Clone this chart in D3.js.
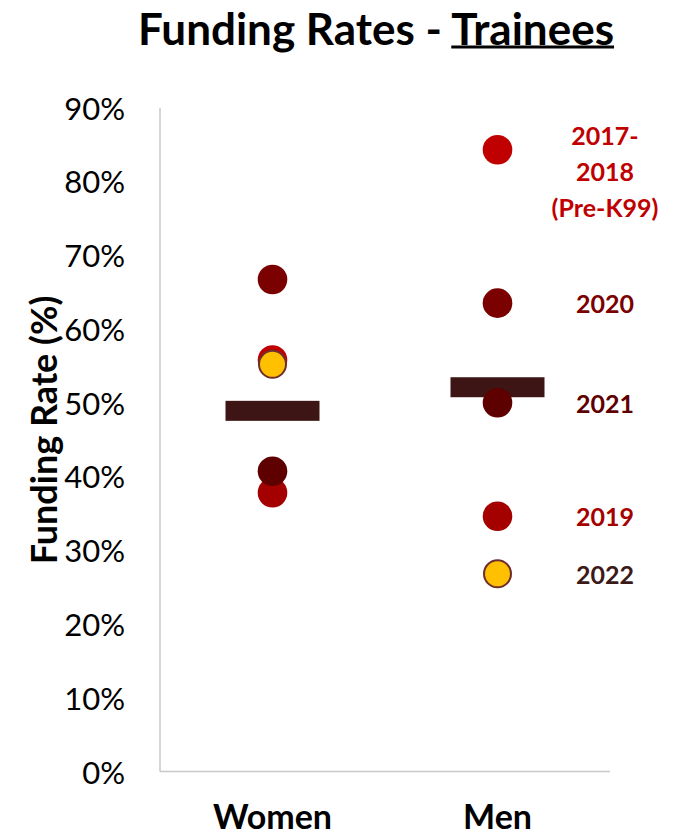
<!DOCTYPE html>
<html>
<head>
<meta charset="utf-8">
<script src="https://cdn.jsdelivr.net/npm/d3@7"></script>
<style>
  body { margin: 0; background: #fff; }
  text { font-family: Lato, "Open Sans", sans-serif; }
</style>
</head>
<body>
<div id="main"></div>
<script>
// data
var groups = ["Women", "Men"];
var years = ["2017-2018", "2019", "2020", "2021", "2022"];
var women = [55.8, 37.8, 66.7, 40.7, 55.2];
var men = [84.3, 34.6, 63.5, 50.0, 26.8];
var averages = [48.9, 52.1];
var tickValues = [0, 10, 20, 30, 40, 50, 60, 70, 80, 90];
var yearLabels = [["2017-", "2018", "(Pre-K99)"], ["2019"], ["2020"], ["2021"], ["2022"]];

var pointColors = ["#C00000", "#A50000", "#7B0000", "#5E0000", "#FFC000"];
var labelColors = ["#C00000", "#A50000", "#7B0000", "#5E0000", "#3D1A1A"];

var W = 677, H = 836;
var svg = d3.select("#main").append("svg")
    .attr("width", W)
    .attr("height", H);

var x = d3.scaleBand()
    .domain(groups)
    .range([160, 610]);

var y = d3.scaleLinear()
    .domain([0, 90])
    .range([771.5, 107.7]);

// title
var title = svg.append("text")
    .attr("x", 376)
    .attr("y", 28)
    .attr("text-anchor", "middle")
    .attr("dominant-baseline", "central")
    .attr("font-size", 44)
    .attr("font-weight", "bold")
    .attr("fill", "#000");
title.append("tspan").text("Funding Rates - ");
var under = title.append("tspan").text("Trainees");

// underline for "Trainees"
var titleBox = title.node().getBBox();
var tLen = under.node().getComputedTextLength();
svg.append("line")
    .attr("x1", titleBox.x + titleBox.width - tLen)
    .attr("x2", titleBox.x + titleBox.width)
    .attr("y1", 47)
    .attr("y2", 47)
    .attr("stroke", "#000")
    .attr("stroke-width", 3);

// axis lines
svg.append("line")
    .attr("x1", 160).attr("x2", 160)
    .attr("y1", y(90)).attr("y2", y(0))
    .attr("stroke", "#c8c8c8")
    .attr("stroke-width", 1.5);
svg.append("line")
    .attr("x1", 160).attr("x2", 610)
    .attr("y1", y(0)).attr("y2", y(0))
    .attr("stroke", "#c8c8c8")
    .attr("stroke-width", 1.5);

// y tick labels
svg.selectAll("text.ytick")
    .data(tickValues)
    .enter().append("text")
    .attr("class", "ytick")
    .attr("x", 125)
    .attr("y", function(d) { return y(d); })
    .attr("text-anchor", "end")
    .attr("dominant-baseline", "central")
    .attr("font-size", 31)
    .attr("fill", "#000")
    .text(function(d) { return d + "%"; });

// y axis title
svg.append("text")
    .attr("transform", "translate(43," + 430 + ") rotate(-90)")
    .attr("text-anchor", "middle")
    .attr("dominant-baseline", "central")
    .attr("font-size", 36)
    .attr("font-weight", "bold")
    .attr("fill", "#000")
    .text("Funding Rate (%)");

// category labels
svg.selectAll("text.cat")
    .data(groups)
    .enter().append("text")
    .attr("class", "cat")
    .attr("x", function(d) { return x(d) + x.bandwidth() / 2; })
    .attr("y", 815)
    .attr("text-anchor", "middle")
    .attr("dominant-baseline", "central")
    .attr("font-size", 34)
    .attr("font-weight", "bold")
    .attr("fill", "#000")
    .text(function(d) { return d; });

// average bars
var barW = 94, barH = 20;
svg.selectAll("rect.avg")
    .data(averages)
    .enter().append("rect")
    .attr("class", "avg")
    .attr("x", function(d, i) { return x(groups[i]) + x.bandwidth() / 2 - barW / 2; })
    .attr("y", function(d) { return y(d) - barH / 2; })
    .attr("width", barW)
    .attr("height", barH)
    .attr("fill", "#3D1515");

// points, drawn year by year so later years sit on top
var points = [];
years.forEach(function(yr, i) {
    points.push({group: "Women", year: yr, value: women[i], i: i});
    points.push({group: "Men", year: yr, value: men[i], i: i});
});

svg.selectAll("circle.pt")
    .data(points)
    .enter().append("circle")
    .attr("class", "pt")
    .attr("cx", function(d) { return x(d.group) + x.bandwidth() / 2; })
    .attr("cy", function(d) { return y(d.value); })
    .attr("r", function(d) { return d.year == "2022" ? 13.5 : 14.8; })
    .attr("fill", function(d) { return pointColors[d.i]; })
    .attr("stroke", function(d) { return d.year == "2022" ? "#6E2E2E" : "none"; })
    .attr("stroke-width", 2);

// year labels next to the men's points
var labelX = 605;
var lines = [];
yearLabels.forEach(function(ls, i) {
    var off = ls.length > 1 ? -15 : 0;
    ls.forEach(function(t, j) {
        lines.push({text: t, i: i, yy: y(men[i]) + off + j * 36});
    });
});

svg.selectAll("text.yr")
    .data(lines)
    .enter().append("text")
    .attr("class", "yr")
    .attr("x", labelX)
    .attr("y", function(d) { return d.yy; })
    .attr("text-anchor", "middle")
    .attr("dominant-baseline", "central")
    .attr("font-size", 25)
    .attr("font-weight", "bold")
    .attr("fill", function(d) { return labelColors[d.i]; })
    .text(function(d) { return d.text; });
</script>
</body>
</html>
